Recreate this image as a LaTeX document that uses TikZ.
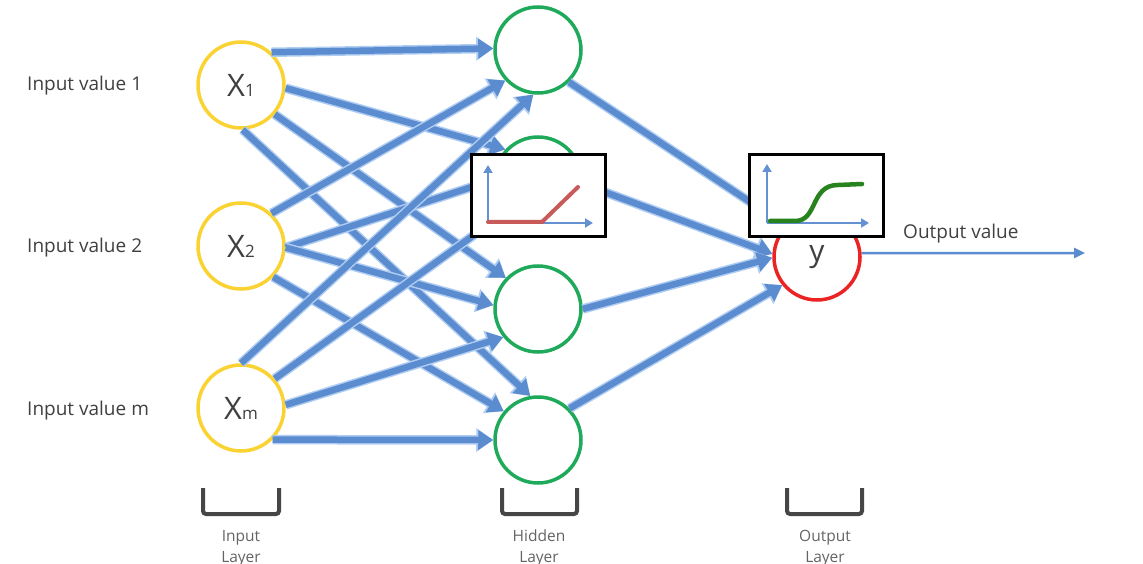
\documentclass[tikz,border=0pt]{standalone}
\usepackage{fontspec}
\setmainfont{Open Sans}
\usetikzlibrary{arrows.meta}
\definecolor{connblue}{RGB}{92,140,208}
\definecolor{glowblue}{RGB}{175,205,242}
\definecolor{inyel}{RGB}{250,210,50}
\definecolor{hidgrn}{RGB}{30,170,90}
\definecolor{outred}{RGB}{235,35,35}
\definecolor{txtgray}{RGB}{64,64,64}
\definecolor{lblgray}{RGB}{100,100,100}
\definecolor{brkgray}{RGB}{70,70,70}
\definecolor{relured}{RGB}{200,90,90}
\definecolor{siggrn}{RGB}{40,130,30}
\definecolor{axblue}{RGB}{100,145,210}
\begin{document}
\begin{tikzpicture}[x=1pt,y=-1pt,
  neuron/.style={circle, minimum size=86pt, line width=3.5pt, fill=white, inner sep=0pt, text=txtgray},
  innode/.style={neuron, draw=inyel},
  hidnode/.style={neuron, draw=hidgrn},
  outnode/.style={neuron, draw=outred},
  link/.style={draw=connblue, line width=6.5pt, -{Triangle[length=15pt,width=19pt]},
    preaction={draw=glowblue, line width=9.5pt, -{Triangle[length=17pt,width=23pt]}}},
  outlink/.style={draw=connblue, line width=2.5pt, -{Triangle[length=11pt,width=10pt]}},
  fnbox/.style={draw=black, line width=3pt, fill=white, minimum width=134pt, minimum height=82pt, inner sep=0pt},
  axisline/.style={draw=axblue, line width=2.5pt, -{Triangle[length=8pt,width=9pt]}},
  sidelabel/.style={anchor=base west, inner sep=0pt, text=txtgray, font=\fontsize{19}{22}\selectfont},
  layerlabel/.style={anchor=base, inner sep=0pt, text=lblgray, font=\fontsize{15.5}{18}\selectfont},
  bracket/.style={draw=brkgray, line width=4pt, rounded corners=3pt}
]
\useasboundingbox (0,0) rectangle (1143,564);

% neurons
\node[innode] (x1) at (241,85) {{\fontsize{31}{31}\selectfont X}{\fontsize{17}{17}\selectfont 1}};
\node[innode] (x2) at (241,246) {{\fontsize{31}{31}\selectfont X}{\fontsize{17}{17}\selectfont 2}};
\node[innode] (xm) at (241,408) {{\fontsize{31}{31}\selectfont X}{\fontsize{17}{17}\selectfont m}};
\node[hidnode] (h1) at (538,50) {};
\node[hidnode] (h2) at (538,180) {};
\node[hidnode] (h3) at (538,309) {};
\node[hidnode] (h4) at (538,440) {};
\node[outnode] (y) at (817,257) {\fontsize{30}{30}\selectfont y};

% input -> hidden
\draw[link] (x1.47) -- (h1.178);
\draw[link] (x1.-4) -- (h2.137);
\draw[link] (x1.-41) -- (h3.136);
\draw[link] (x1.-88) -- (h4.100);
\draw[link] (x2.47) -- (h1.223);
\draw[link] (x2.-2) -- (h2.180);
\draw[link] (x2.-2) -- (h3.175);
\draw[link] (x2.-44) -- (h4.140);
\draw[link] (xm.90) -- (h1.264);
\draw[link] (xm.41) -- (h2.225);
\draw[link] (xm.4) -- (h3.219);
\draw[link] (xm.-45) -- (h4.180);

% hidden -> output
\draw[link] (h1.-46) -- (y.135);
\draw[link] (h2.-5) -- (y.176);
\draw[link] (h3.0) -- (y.181);
\draw[link] (h4.45) -- (y.219);

% output value
\coordinate (outend) at (1085,253);
\draw[outlink] (y.5) -- (outend);
\node[sidelabel] (outlbl) at (903,239) {Output value};

% activation boxes
\node[fnbox] (relu) at (538.5,195.5) {};
\draw[axisline] (488,223) -- (488,165);
\draw[axisline] (488,223) -- (593,223);
\draw[relured, line width=4pt, line cap=round] (488,222) -- (542,222) -- (578,187);

\node[fnbox] (sig) at (816.5,195.5) {};
\draw[axisline] (767,223) -- (767,164);
\draw[axisline] (767,223) -- (869,223);
\draw[siggrn, line width=4.5pt, line cap=round] (770,221) -- (795,221) .. controls (818,221) and (810,185) .. (838,185) -- (862,184);

% side labels
\node[sidelabel] (in1) at (27,91) {Input value 1};
\node[sidelabel] (in2) at (27,252) {Input value 2};
\node[sidelabel] (inm) at (27,415) {Input value m};

% brackets
\draw[bracket] (203,488) -- (203,514) -- (279,514) -- (279,488);
\draw[bracket] (502,488) -- (502,514) -- (577,514) -- (577,488);
\draw[bracket] (787,488) -- (787,514) -- (862,514) -- (862,488);

% layer labels
\node[layerlabel] (l1a) at (241,541) {Input};
\node[layerlabel] (l1b) at (241,562) {Layer};
\node[layerlabel] (l2a) at (539,541) {Hidden};
\node[layerlabel] (l2b) at (539,562) {Layer};
\node[layerlabel] (l3a) at (825,541) {Output};
\node[layerlabel] (l3b) at (825,562) {Layer};
\end{tikzpicture}
\end{document}
